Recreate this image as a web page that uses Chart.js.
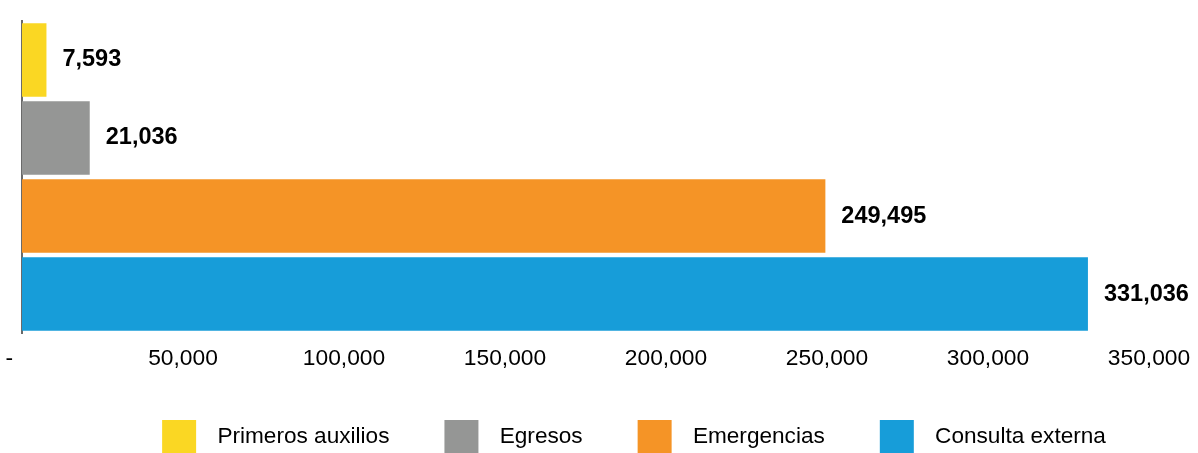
<!DOCTYPE html>
<html lang="es">
<head>
    <meta charset="UTF-8">
    <title>Atenciones por servicio</title>
    <script src="https://cdn.jsdelivr.net/npm/chart.js"></script>
    <style>
        html, body { margin: 0; padding: 0; background: #fff; }
        #wrap { width: 1198px; height: 453px; }
    </style>
</head>
<body>
    <div id="wrap"><canvas id="chart"></canvas></div>

    <script>
        const categories = ['Primeros auxilios', 'Egresos', 'Emergencias', 'Consulta externa'];
        const values = [7593, 21036, 249495, 331036];
        const colors = ['#FAD723', '#959695', '#F59426', '#179DD9'];
        const xTicks = [0, 50000, 100000, 150000, 200000, 250000, 300000, 350000];

        const FONT = "'Liberation Sans', Arial, Helvetica, sans-serif";

        function fmt(v) {
            return v === 0 ? '-    ' : v.toLocaleString('en-US');
        }

        // legend swatch: 34x33 box; blank room left (item spacing) and right (gap before text)
        function swatch(color) {
            const c = document.createElement('canvas');
            c.width = 89;
            c.height = 33;
            const g = c.getContext('2d');
            g.fillStyle = color;
            g.fillRect(45, 0, 34, 33);
            return c;
        }

        const valueLabels = {
            id: 'valueLabels',
            afterDatasetsDraw(chart) {
                const ctx = chart.ctx;
                const meta = chart.getDatasetMeta(0);
                ctx.save();
                ctx.font = 'bold 23.5px ' + FONT;
                ctx.fillStyle = '#000';
                ctx.textAlign = 'left';
                ctx.textBaseline = 'middle';
                meta.data.forEach((bar, i) => {
                    ctx.fillText(fmt(values[i]), bar.x + 16, bar.y);
                });
                ctx.restore();
            }
        };

        // nudge the legend a bit to the right, like the original
        const legendShift = {
            id: 'legendShift',
            afterLayout(chart) {
                if (chart.legend) chart.legend.left += 54;
            }
        };

        new Chart(document.getElementById('chart'), {
            type: 'bar',
            data: {
                labels: categories,
                datasets: [{
                    data: values,
                    backgroundColor: colors,
                    borderWidth: 0,
                    barPercentage: 0.94,
                    categoryPercentage: 1
                }]
            },
            options: {
                indexAxis: 'y',
                responsive: true,
                maintainAspectRatio: false,
                animation: false,
                layout: {
                    padding: { top: 21, left: 20, right: 49, bottom: -5 }
                },
                scales: {
                    x: {
                        min: 0,
                        max: 350000,
                        afterBuildTicks: axis => {
                            axis.ticks = xTicks.map(v => ({ value: v }));
                        },
                        afterFit: axis => {
                            axis.height += 31;
                            axis.paddingLeft = 0;
                            axis.paddingRight = 0;
                        },
                        grid: { display: false, drawTicks: false },
                        border: { display: false },
                        ticks: {
                            padding: 12,
                            color: '#000',
                            maxRotation: 0,
                            autoSkip: false,
                            font: { family: FONT, size: 22.8 },
                            callback: v => fmt(v)
                        }
                    },
                    y: {
                        afterFit: axis => {
                            axis.width = 2;
                        },
                        grid: { display: false, drawTicks: false },
                        border: { display: true, color: '#6a6a6a', width: 2 },
                        ticks: { display: false }
                    }
                },
                plugins: {
                    tooltip: { enabled: false },
                    legend: {
                        position: 'bottom',
                        labels: {
                            usePointStyle: true,
                            pointStyleWidth: 89,
                            padding: 10,
                            color: '#000',
                            font: { family: FONT, size: 22.6 },
                            generateLabels: () => categories.map((c, i) => ({
                                text: c,
                                pointStyle: swatch(colors[i]),
                                fillStyle: colors[i],
                                strokeStyle: colors[i],
                                lineWidth: 0,
                                hidden: false,
                                index: i
                            }))
                        }
                    }
                }
            },
            plugins: [valueLabels, legendShift]
        });
    </script>
</body>
</html>
